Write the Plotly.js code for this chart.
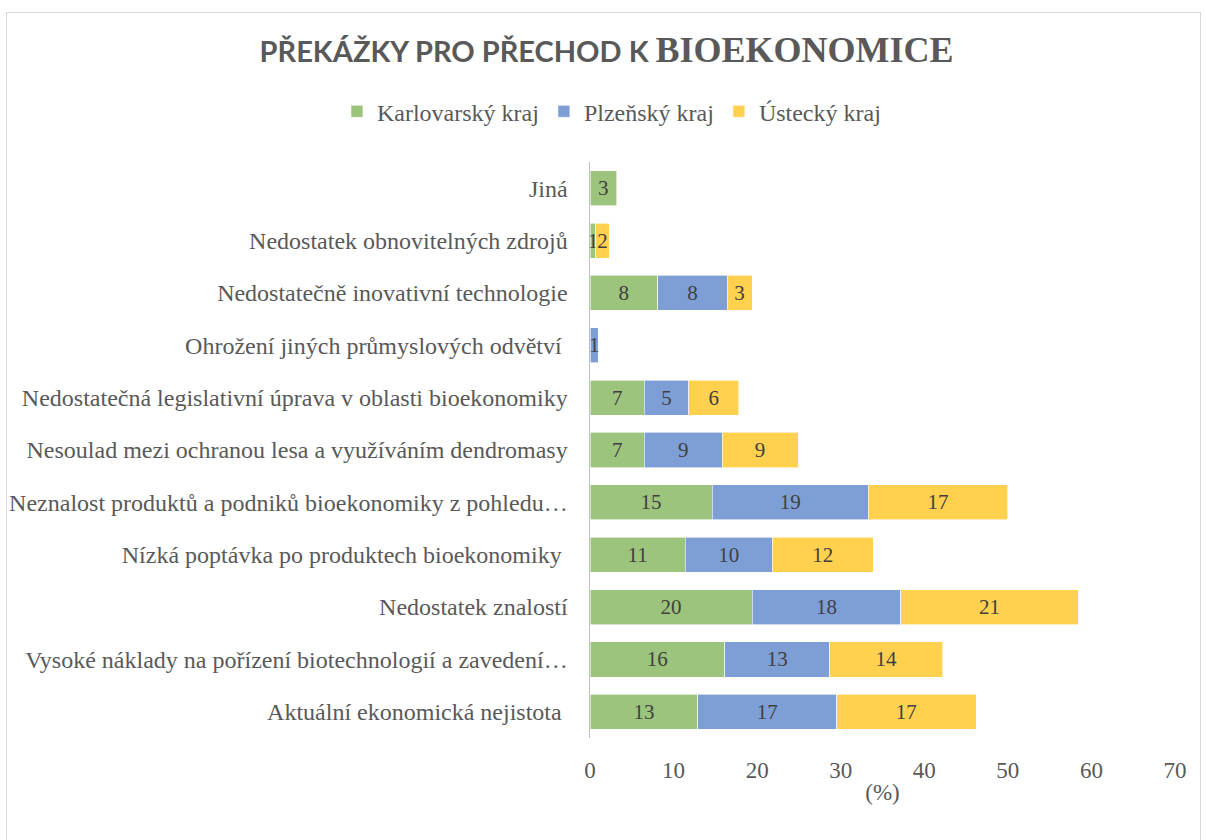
<!DOCTYPE html>
<html>
<head>
<meta charset="utf-8">
<script src="https://cdn.plot.ly/plotly-3.0.1.min.js"></script>
<style>
  html, body { margin: 0; padding: 0; background: #ffffff; }
  #frame { position: absolute; left: 6px; top: 12px; width: 1195px; height: 840px; border: 1.5px solid #d9d9d9; box-sizing: border-box; pointer-events: none; z-index: 5; }
  #chart { position: absolute; left: 0; top: 0; width: 1206px; height: 840px; }
</style>
</head>
<body>
<div id="chart"></div>
<div id="frame"></div>
<script>
// Categories (bottom to top)
const categories = [
  "Aktuální ekonomická nejistota ",
  "Vysoké náklady na pořízení biotechnologií a zavedení…",
  "Nedostatek znalostí",
  "Nízká poptávka po produktech bioekonomiky ",
  "Neznalost produktů a podniků bioekonomiky z pohledu…",
  "Nesoulad mezi ochranou lesa a využíváním dendromasy",
  "Nedostatečná legislativní úprava v oblasti bioekonomiky",
  "Ohrožení jiných průmyslových odvětví ",
  "Nedostatečně inovativní technologie",
  "Nedostatek obnovitelných zdrojů",
  "Jiná"
];
// Series values (%)
const karlovarsky = [12.9, 16.1, 19.4, 11.4, 14.6, 6.5, 6.5, null, 8.1, 0.7, 3.2];
const plzensky    = [16.6, 12.6, 17.8, 10.4, 18.7, 9.3, 5.3, 1.0, 8.3, null, null];
const ustecky     = [16.7, 13.5, 21.2, 12.1, 16.7, 9.1, 6.0, null, 3.0, 1.6, null];
// Data labels as shown
const karlovarskyLabels = ["13", "16", "20", "11", "15", "7", "7", "", "8", "1", "3"];
const plzenskyLabels    = ["17", "13", "18", "10", "19", "9", "5", "1", "8", "", ""];
const usteckyLabels     = ["17", "14", "21", "12", "17", "9", "6", "", "3", "2", ""];
const seriesNames = ["Karlovarský kraj", "Plzeňský kraj", "Ústecký kraj"];
const xTicks = [0, 10, 20, 30, 40, 50, 60, 70];

const serif = "Liberation Serif";
const colors = ["#9dc47d", "#7e9ed6", "#ffd14f"];
const values = [karlovarsky, plzensky, ustecky];
const labels = [karlovarskyLabels, plzenskyLabels, usteckyLabels];

const traces = values.map((v, i) => ({
  type: "bar",
  orientation: "h",
  name: seriesNames[i],
  y: categories,
  x: v,
  text: labels[i],
  texttemplate: "%{text}",
  textposition: "inside",
  insidetextanchor: "middle",
  constraintext: "none",
  textangle: 0,
  textfont: { family: serif, size: 21, color: "#404040" },
  marker: { color: colors[i], line: { color: "#ffffff", width: 0.6 } },
  hoverinfo: "skip"
}));

const layout = {
  width: 1206,
  height: 840,
  font: { family: serif, color: "#595959" },
  paper_bgcolor: "#ffffff",
  plot_bgcolor: "#ffffff",
  barmode: "stack",
  bargap: 0.33,
  margin: { l: 590, r: 31, t: 162, b: 102, pad: 0 },
  title: {
    text: "<span style=\"font-family:Lato;font-size:29px;font-weight:bold\">PŘEKÁŽKY PRO PŘECHOD K </span><span style=\"font-family:Liberation Serif;font-size:36px;font-weight:bold\">BIOEKONOMICE</span>",
    font: { family: serif, size: 32, color: "#595959" },
    xref: "container", yref: "container",
    x: 0.503, y: 0.940, xanchor: "center", yanchor: "middle"
  },
  showlegend: true,
  legend: {
    orientation: "h",
    xref: "container", yref: "container",
    x: 0.507, y: 0.867, xanchor: "center", yanchor: "middle",
    font: { family: serif, size: 24, color: "#595959" },
    itemwidth: 30,
    traceorder: "normal",
    itemclick: false
  },
  xaxis: {
    range: [0, 70],
    tickvals: xTicks,
    ticktext: xTicks.map(String),
    showgrid: false,
    zeroline: false,
    showline: false,
    ticks: "",
    ticklabelstandoff: 16,
    tickfont: { family: serif, size: 23, color: "#595959" },
    title: { text: "(%)", font: { family: serif, size: 23, color: "#595959" }, standoff: 1 },
    fixedrange: true
  },
  yaxis: {
    type: "category",
    showgrid: false,
    zeroline: false,
    showline: true,
    linecolor: "#bfbfbf",
    linewidth: 1.5,
    ticks: "",
    ticklabelstandoff: 16,
    tickfont: { family: serif, size: 24, color: "#595959" },
    automargin: false,
    fixedrange: true
  }
};

Plotly.newPlot("chart", traces, layout, { displayModeBar: false, staticPlot: true });
</script>
</body>
</html>
